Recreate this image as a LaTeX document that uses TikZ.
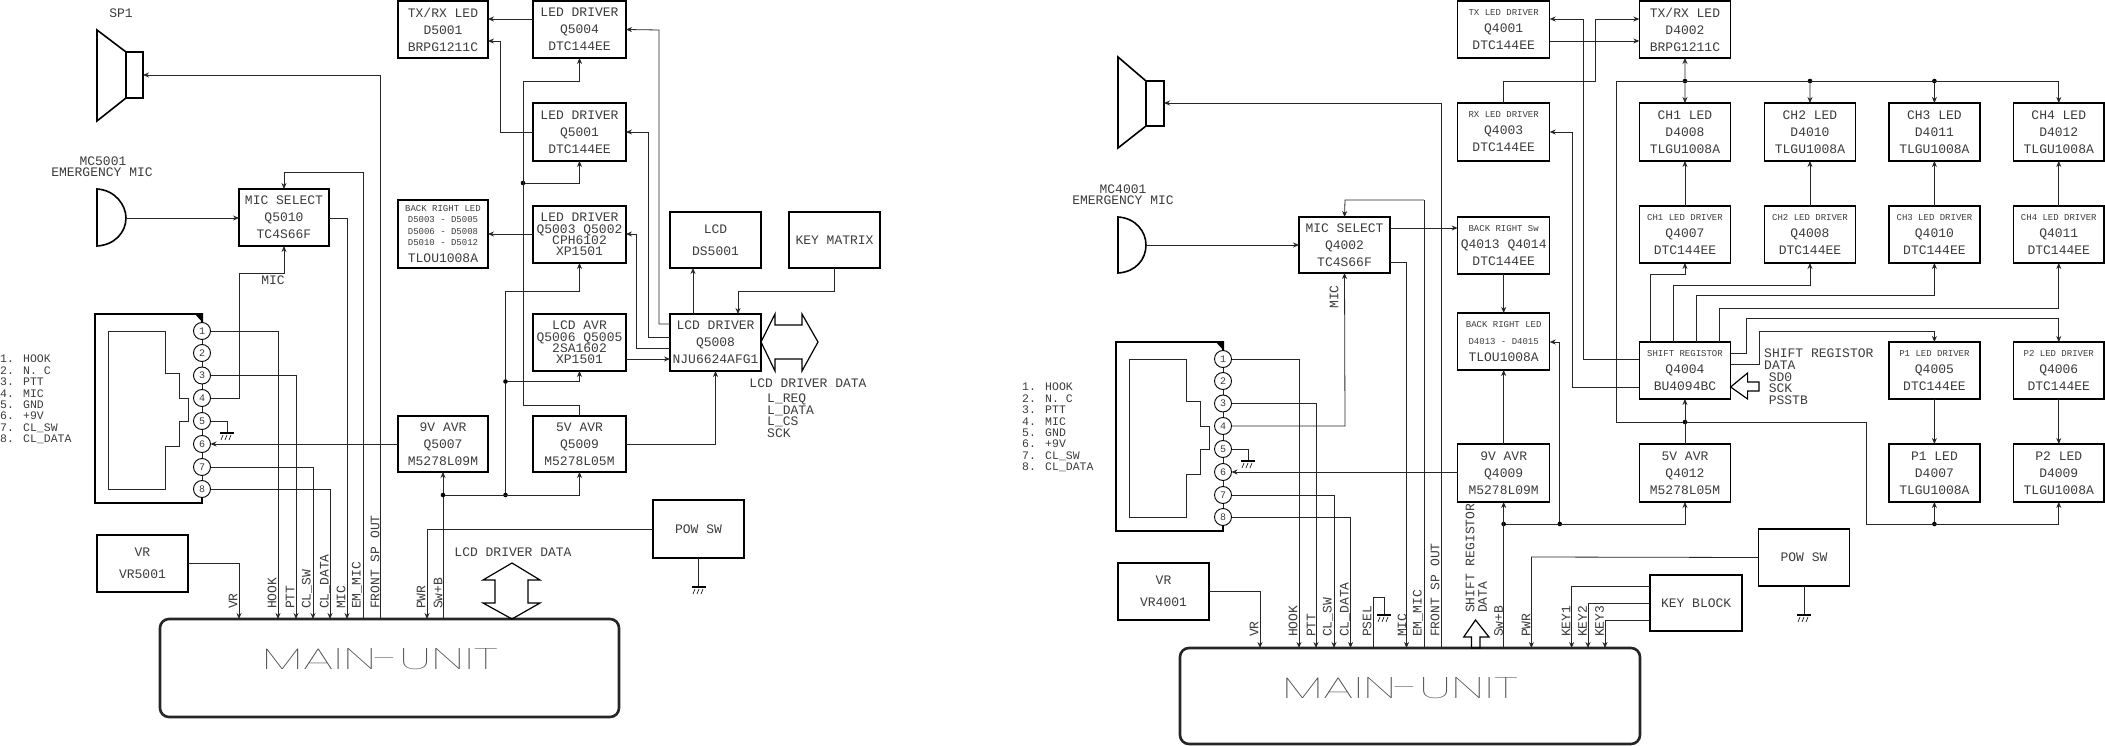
\documentclass[tikz,border=0pt]{standalone}
\usepackage{fontspec}
\setmainfont{Liberation Mono}
\newfontfamily\thinf{Poppins Thin}
\usetikzlibrary{arrows.meta}
\definecolor{txt}{HTML}{3C3C3C}
\definecolor{wirec}{HTML}{262626}
\newcommand\sm{\fontsize{9}{17}\selectfont}
\tikzset{
  x=1pt,y=-1pt,
  box/.style={draw=black,line width=1.5pt,inner sep=0pt,outer sep=0pt,align=center,text=txt,font=\fontsize{13}{17}\selectfont},
  mainbox/.style={draw=black!85,line width=2.6pt,rounded corners=9pt,inner sep=0pt,outer sep=0pt},
  lbl/.style={inner sep=0pt,text=txt,font=\fontsize{13}{15}\selectfont},
  lleft/.style={lbl,anchor=west},
  plist/.style={lleft,font=\fontsize{11.5}{14}\selectfont},
  vlbl/.style={lbl,rotate=90,anchor=west},
  wire/.style={line width=.8pt,draw=wirec},
  arr/.style={wire,-{Stealth[length=6pt,width=5pt]}},
  dot/.style={circle,fill=black,inner sep=0pt,minimum size=4.6pt,outer sep=0pt},
  pin/.style={circle,draw=black,line width=.9pt,fill=white,inner sep=0pt,outer sep=0pt,minimum size=17pt,text=txt,font=\fontsize{10}{12}\selectfont},
  fat/.style={draw=black,line width=1.2pt},
  thick line/.style={draw=black,line width=1.6pt}
}
\newcommand\bx[6]{\node[box,minimum width={#4-#2},minimum height={#5-#3}] (#1) at ({(#2+#4)/2},{(#3+#5)/2}) {#6};}
\newcommand\gnd[2]{%
  \draw[line width=1.3pt,black] ({#1-7},#2) -- ({#1+7},#2);
  \foreach \d in {-4,0,4}{\draw[line width=.6pt,black] ({#1+\d},{#2+2}) -- ({#1+\d-2},{#2+7});}}
\newcommand\plug[1]{%
  \draw[thick line] (202,322) -- (202,314) -- (94.7,314) -- (94.7,503) -- (202,503) -- (202,490);
  \fill[black] (194,313) -- (203,313) -- (203,323) -- cycle;
  \draw[wire] (108,331) -- (165,331) -- (165,373) -- (179,373) -- (179,398) -- (188,398) -- (188,421) -- (179,421) -- (179,446) -- (165,446) -- (165,489) -- (108,489) -- cycle;
  \draw[wire] (202,322) -- (202,490);
  \node[pin] (#1a) at (202,331) {1};
  \node[pin] (#1b) at (202,353) {2};
  \node[pin] (#1c) at (202,375.5) {3};
  \node[pin] (#1d) at (202,398) {4};
  \node[pin] (#1e) at (202,421) {5};
  \node[pin] (#1f) at (202,444) {6};
  \node[pin] (#1g) at (202,467) {7};
  \node[pin] (#1h) at (202,489) {8};
  \draw[wire] (#1e.east) -- (227,421) -- (227,433);
  \gnd{227}{433}
}
\newcommand\pinlist[2]{%
  \node[plist] (#2a) at (#1,359) {1. HOOK};
  \node[plist] (#2b) at (#1,371) {2. N. C};
  \node[plist] (#2c) at (#1,382) {3. PTT};
  \node[plist] (#2d) at (#1,394) {4. MIC};
  \node[plist] (#2e) at (#1,405) {5. GND};
  \node[plist] (#2f) at (#1,416) {6. +9V};
  \node[plist] (#2g) at (#1,428) {7. CL\_SW};
  \node[plist] (#2h) at (#1,439) {8. CL\_DATA};
}
\begin{document}
\begin{tikzpicture}
\useasboundingbox[fill=white] (0,0) rectangle (2105,746);

% ============ LEFT ============
\draw[thick line] (97,30) -- (126,52) -- (126,98) -- (97,121) -- cycle;
\draw[thick line] (126,52) rectangle (143,98);
\coordinate (spl) at (143,75);
\draw[thick line] (97,189) .. controls (115,190) and (126,205) .. (126,218) .. controls (126,232) and (115,245) .. (97,246) -- cycle;
\coordinate (mcl) at (126,218);
\node[lbl] (spt) at (121,13) {SP1};
\node[lbl] (mct) at (103,161) {MC5001};
\node[lbl] (emt) at (102,172.5) {EMERGENCY MIC};

\bx{msl}{239}{189}{329}{246}{MIC SELECT\\Q5010\\TC4S66F}
\bx{txl}{398}{1}{488}{58}{TX/RX LED\\D5001\\BRPG1211C}
\bx{d4}{533}{1}{626}{58}{LED DRIVER\\Q5004\\DTC144EE}
\bx{d1}{533}{103}{626}{161}{LED DRIVER\\Q5001\\DTC144EE}
\bx{d3}{533}{206}{626}{263}{LED DRIVER\\[-5.6pt]Q5003 Q5002\\[-5.6pt]CPH6102\\[-5.6pt]XP1501}
\bx{bl}{398}{200}{488}{268}{\sm BACK RIGHT LED\\[-5.6pt]\sm D5003 - D5005\\[-5.6pt]\sm D5006 - D5008\\[-5.6pt]\sm D5010 - D5012\\TLOU1008A}
\bx{la}{533}{314}{626}{371}{LCD AVR\\[-5.6pt]Q5006 Q5005\\[-5.6pt]2SA1602\\[-5.6pt]XP1501}
\bx{ld}{670}{314}{761}{371}{LCD DRIVER\\Q5008\\NJU6624AFG1}
\bx{lc}{670}{212}{761}{268}{LCD\\[5pt]DS5001}
\bx{km}{789}{212}{880}{268}{KEY MATRIX}
\bx{a9l}{398}{416}{488}{472}{9V AVR\\Q5007\\M5278L09M}
\bx{a5l}{533}{416}{626}{472}{5V AVR\\Q5009\\M5278L05M}
\bx{vrl}{97}{535}{188}{592}{VR\\[5pt]VR5001}
\bx{psl}{653}{500}{744}{558}{POW SW}
\node[mainbox,minimum width=459pt,minimum height=98pt] (ml) at (389.5,668) {};
\node[text=black!70,inner sep=0pt] (mlt) at (380,659) {\resizebox{236pt}{21pt}{\thinf\fontsize{32}{34}\selectfont MAIN-UNIT}};

\plug{pl}
\pinlist{0}{pln}

\draw[arr] (ml.north-|380,0) -- (380,75) -- (spl);
\draw[arr] (mcl) -- (msl.west|-mcl);
\draw[arr] (msl.east|-0,218) -- (347,218) -- (347,0|-ml.north);
\draw[arr] (363,0|-ml.north) -- (363,172) -- (284,172) -- (msl.north-|284,0);
\draw[arr] (pld.east) -- (239,398) -- (239,273) -- (284,273) -- (msl.south-|284,0);
\draw[arr] (pla.east) -- (278,331) -- (ml.north-|278,0);
\draw[arr] (plc.east) -- (296,375.5) -- (ml.north-|296,0);
\draw[arr] (plg.east) -- (313,467) -- (ml.north-|313,0);
\draw[arr] (plh.east) -- (330,489) -- (ml.north-|330,0);
\draw[arr] (a9l.west|-plf.east) -- (plf.east);
\draw[arr] (vrl.east) -- (239,563.5) -- (ml.north-|239,0);
\node[lbl] (micl) at (273,280) {MIC};
\foreach \x/\t/\n in {233/VR/a,272/HOOK/b,290/PTT/c,307/CL\_SW/d,325/CL\_DATA/e,341/MIC/f,357/EM\_MIC/g,375/FRONT SP OUT/h,421/PWR/i,438/Sw+B/j}
  {\node[vlbl] (lv\n) at (\x,609) {\t};}
\draw[arr] (psl.west) -- (427,529) -- (ml.north-|427,0);
\draw[arr] (ml.north-|a9l.south) -- (a9l.south);
\node[dot] (j1) at (443,495) {};
\node[dot] (j2) at (505.5,495) {};
\node[dot] (j3) at (505.5,381.5) {};
\node[dot] (j4) at (523,183) {};
\draw[arr] (j1) -- (a5l.south|-j1) -- (a5l.south);
\draw[wire] (j2) -- (j3);
\draw[arr] (j3) -- (505.5,291) -- (d3.south|-0,291) -- (d3.south);
\draw[arr] (j3) -- (la.south|-j3) -- (la.south);
\draw[arr] (a5l.north) -- (a5l.north|-0,405) -- (523,405) -- (523,81) -- (d4.south|-0,81) -- (d4.south);
\draw[arr] (j4) -- (d1.south|-j4) -- (d1.south);
\draw[arr] (a5l.east) -- (ld.south|-a5l.east) -- (ld.south);
\draw[arr] (d4.west|-0,19) -- (txl.east|-0,19);
\draw[arr] (d1.west) -- (500.5,132) -- (500.5,41) -- (txl.east|-0,41);
\draw[arr] (d3.west|-0,234) -- (bl.east|-0,234);
\draw[arr] (ld.west|-0,324) -- (659,324) -- (659,30) -- (d4.east);
\draw[arr] (ld.west|-0,337) -- (648,337) -- (648,132) -- (d1.east);
\draw[arr] (ld.west|-0,348) -- (636,348) -- (636,234) -- (d3.east|-0,234);
\draw[arr] (la.east|-0,359) -- (ld.west|-0,359);
\draw[arr] (ld.north-|693,0) -- (lc.south-|693,0);
\draw[arr] (km.south) -- (km.south|-0,291) -- (738,291) -- (ld.north-|738,0);
\draw[fat] (761,342) -- (775,314) -- (775,325) -- (802,325) -- (802,314) -- (818,342) -- (802,371) -- (802,359) -- (775,359) -- (775,371) -- cycle;
\node[lbl] (ldd) at (808,383) {LCD DRIVER DATA};
\node[lleft] (q1) at (767,399) {L\_REQ};
\node[lleft] (q2) at (767,411) {L\_DATA};
\node[lleft] (q3) at (767,422) {L\_CS};
\node[lleft] (q4) at (767,433) {SCK};
\node[lbl] (ldd2) at (513,552.5) {LCD DRIVER DATA};
\draw[fat] (512,563) -- (540,580) -- (528,580) -- (528,603) -- (540,603) -- (512,619) -- (483,603) -- (495,603) -- (495,580) -- (483,580) -- cycle;
\draw[wire] (psl.south) -- (psl.south|-0,587);
\gnd{699}{587}

% ============ RIGHT ============
\draw[thick line] (1118,57) -- (1146,81) -- (1146,126) -- (1118,148) -- cycle;
\draw[thick line] (1146,81) rectangle (1164,126);
\coordinate (spr) at (1164,103);
\draw[thick line] (1118,217) .. controls (1136,218) and (1146,232) .. (1146,245) .. controls (1146,259) and (1136,272) .. (1118,273) -- cycle;
\coordinate (mcr) at (1146,245);
\node[lbl] (mctr) at (1123,189) {MC4001};
\node[lbl] (emtr) at (1123,200.5) {EMERGENCY MIC};

\bx{msr}{1299}{217}{1390}{273}{MIC SELECT\\Q4002\\TC4S66F}
\bx{txd}{1457.6}{1}{1549.7}{58}{\sm TX LED DRIVER\\Q4001\\DTC144EE}
\bx{rxd}{1457.6}{103}{1549.7}{161}{\sm RX LED DRIVER\\Q4003\\DTC144EE}
\bx{bsw}{1457.6}{217}{1549.7}{274}{\sm BACK RIGHT Sw\\Q4013 Q4014\\DTC144EE}
\bx{bll}{1457.6}{313}{1549.7}{370}{\sm BACK RIGHT LED\\\sm D4013 - D4015\\TLOU1008A}
\bx{a9r}{1457.6}{444}{1549.7}{502}{9V AVR\\Q4009\\M5278L09M}
\bx{txr}{1639.3}{1}{1730.6}{58}{TX/RX LED\\D4002\\BRPG1211C}
\bx{ch1}{1639.3}{103}{1730.6}{161}{CH1 LED\\D4008\\TLGU1008A}
\bx{ch2}{1764.3}{103}{1855.6}{161}{CH2 LED\\D4010\\TLGU1008A}
\bx{ch3}{1888.8}{103}{1980}{161}{CH3 LED\\D4011\\TLGU1008A}
\bx{ch4}{2013.3}{103}{2104.2}{161}{CH4 LED\\D4012\\TLGU1008A}
\bx{dv1}{1639.3}{206}{1730.6}{263}{\sm CH1 LED DRIVER\\Q4007\\DTC144EE}
\bx{dv2}{1764.3}{206}{1855.6}{263}{\sm CH2 LED DRIVER\\Q4008\\DTC144EE}
\bx{dv3}{1888.8}{206}{1980}{263}{\sm CH3 LED DRIVER\\Q4010\\DTC144EE}
\bx{dv4}{2013.3}{206}{2104.2}{263}{\sm CH4 LED DRIVER\\Q4011\\DTC144EE}
\bx{sr}{1639.3}{342}{1730.6}{399}{\sm SHIFT REGISTOR\\Q4004\\BU4094BC}
\bx{p1d}{1888.8}{342}{1980}{399}{\sm P1 LED DRIVER\\Q4005\\DTC144EE}
\bx{p2d}{2013.3}{342}{2104.2}{399}{\sm P2 LED DRIVER\\Q4006\\DTC144EE}
\bx{a5r}{1639.3}{444}{1730.6}{502}{5V AVR\\Q4012\\M5278L05M}
\bx{p1l}{1888.8}{444}{1980}{502}{P1 LED\\D4007\\TLGU1008A}
\bx{p2l}{2013.3}{444}{2104.2}{502}{P2 LED\\D4009\\TLGU1008A}
\bx{kb}{1650.2}{575}{1742}{631}{KEY BLOCK}
\bx{psr}{1758.6}{529}{1849.4}{586}{POW SW}
\bx{vrr}{1118}{563}{1209}{620}{VR\\[5pt]VR4001}
\node[mainbox,minimum width=460pt,minimum height=96pt] (mr) at (1410,696) {};
\node[text=black!70,inner sep=0pt] (mrt) at (1400,688) {\resizebox{236pt}{21pt}{\thinf\fontsize{32}{34}\selectfont MAIN-UNIT}};

\begin{scope}[shift={(1021,28)}]
\plug{pr}
\pinlist{1}{prn}
\end{scope}

\draw[arr] (mr.north-|1441,0) -- (1441,103) -- (spr);
\draw[arr] (mcr) -- (msr.west|-mcr);
\draw[arr] (msr.east|-0,228) -- (bsw.west|-0,228);
\draw[arr] (msr.east|-0,262) -- (1406.5,262) -- (mr.north-|1406.5,0);
\draw[wire] (mr.north-|1424,0) -- (1424,200);
\draw[arr] (1424,200) -- (1345,200) -- (msr.north);
\draw[arr] (prd.east) -- (1345,426) -- (msr.south);
\draw[arr] (pra.east) -- (1299,359) -- (mr.north-|1299,0);
\draw[arr] (prc.east) -- (1316,403.5) -- (mr.north-|1316,0);
\draw[arr] (prg.east) -- (1334,495) -- (mr.north-|1334,0);
\draw[arr] (prh.east) -- (1350.5,517) -- (mr.north-|1350.5,0);
\draw[arr] (a9r.west|-prf.east) -- (prf.east);
\draw[arr] (vrr.east) -- (1260,591.5) -- (mr.north-|1260,0);
\node[lbl,rotate=90] (micr) at (1334,297) {MIC};
\foreach \x/\t/\n in {1254/VR/a,1293/HOOK/b,1311/PTT/c,1328/CL\_SW/d,1345/CL\_DATA/e,1367/PSEL/f,1402/MIC/g,1418/EM\_MIC/h,1435/FRONT SP OUT/i,1498.6/Sw+B/j,1526/PWR/k,1566/KEY1/l,1582.5/KEY2/m,1599.5/KEY3/n}
  {\node[vlbl] (rv\n) at (\x,637) {\t};}
\node[vlbl] (srt) at (1470,613) {SHIFT REGISTOR};
\node[vlbl] (srt2) at (1482.5,613) {DATA};
\draw[fat] (1475.5,620) -- (1489,637) -- (1480,637) -- (1480,648) -- (1471.5,648) -- (1471.5,637) -- (1463.7,637) -- cycle;
\draw[wire] (mr.north-|1373,0) -- (1373,597) -- (1384,597) -- (1384,615);
\gnd{1384}{615}

\draw[arr] (sr.west|-0,359) -- (1583,359) -- (1583,19) -- (txd.east|-0,19);
\draw[arr] (txd.east|-0,41) -- (txr.west|-0,41);
\draw[arr] (rxd.north) -- (rxd.north|-0,81) -- (1595,81) -- (1595,19) -- (txr.west|-0,19);
\draw[arr] (sr.west|-0,387) -- (1572,387) -- (1572,132) -- (rxd.east|-0,132);
\node[dot] (b1) at (1685,81) {};
\node[dot] (b2) at (1810,81) {};
\node[dot] (b3) at (1934.4,81) {};
\node[dot] (b4) at (1685,422) {};
\node[dot] (b5) at (1934.4,524) {};
\node[dot] (b6) at (1503.65,524) {};
\node[dot] (b7) at (1559.8,524) {};
\draw[arr] (b4) -- (1616.6,422) -- (1616.6,81) -- (ch4.north|-0,81) -- (ch4.north);
\draw[arr] (b1) -- (txr.south);
\draw[arr] (b1) -- (ch1.north);
\draw[arr] (b2) -- (ch2.north);
\draw[arr] (b3) -- (ch3.north);
\draw[arr] (b4) -- (1866.5,422) -- (1866.5,524) -- (p2l.south|-0,524) -- (p2l.south);
\draw[arr] (b5) -- (p1l.south);
\draw[arr] (a5r.north) -- (sr.south);
\draw[arr] (dv1.north) -- (ch1.south);
\draw[arr] (dv2.north) -- (ch2.south);
\draw[arr] (dv3.north) -- (ch3.south);
\draw[arr] (dv4.north) -- (ch4.south);
\draw[arr] (sr.north-|1650.2,0) -- (1650.2,274) -- (dv1.south|-0,274) -- (dv1.south);
\draw[arr] (sr.north-|1673.4,0) -- (1673.4,285) -- (dv2.south|-0,285) -- (dv2.south);
\draw[arr] (sr.north-|1696,0) -- (1696,295) -- (dv3.south|-0,295) -- (dv3.south);
\draw[arr] (sr.north-|1719,0) -- (1719,308) -- (dv4.south|-0,308) -- (dv4.south);
\draw[arr] (sr.east|-0,353) -- (1746.8,353) -- (1746.8,318) -- (p2d.north|-0,318) -- (p2d.north);
\draw[arr] (sr.east|-0,364) -- (1759,364) -- (1759,331) -- (p1d.north|-0,331) -- (p1d.north);
\draw[fat] (1730.6,387) -- (1747.6,373) -- (1747.6,382) -- (1759,382) -- (1759,391) -- (1747.6,391) -- (1747.6,399) -- cycle;
\node[lleft] (sa) at (1764,353) {SHIFT REGISTOR};
\node[lleft] (sb) at (1764,365) {DATA};
\node[lleft] (sc) at (1768.6,377) {SD0};
\node[lleft] (sd) at (1768.6,388.5) {SCK};
\node[lleft] (se) at (1768.6,400) {PSSTB};
\draw[arr] (p1d.south) -- (p1l.north);
\draw[arr] (p2d.south) -- (p2l.north);
\draw[arr] (bsw.south) -- (bll.north);
\draw[arr] (a9r.north) -- (bll.south);
\draw[arr] (mr.north-|a9r.south) -- (a9r.south);
\draw[arr] (b6) -- (a5r.south|-b6) -- (a5r.south);
\draw[arr] (b7) -- (1559.8,342) -- (bll.east|-0,342);
\draw[arr] (psr.west) -- (1531.4,557) -- (mr.north-|1531.4,0);
\draw[arr] (kb.west|-0,586) -- (1571.6,586) -- (mr.north-|1571.6,0);
\draw[arr] (kb.west|-0,603) -- (1588,603) -- (mr.north-|1588,0);
\draw[arr] (kb.west|-0,620) -- (1605,620) -- (mr.north-|1605,0);
\draw[wire] (psr.south) -- (psr.south|-0,615);
\gnd{1804}{615}
\end{tikzpicture}
\end{document}
